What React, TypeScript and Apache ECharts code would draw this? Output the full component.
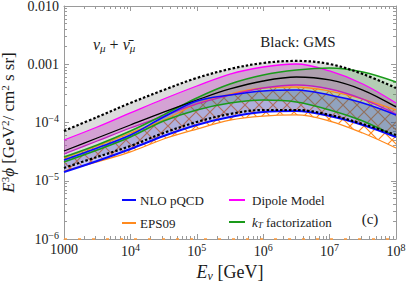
import React, { useEffect, useRef } from "react";
import * as echarts from "echarts";

// Neutrino energy (GeV)
const energies = [1e3, 3162, 1e4, 31623, 1e5, 316228, 1e6, 3162278, 1e7, 31622777, 1e8];

// E^3 phi (GeV^2 / cm^2 s sr)
const gmsUpper = [7.15e-5, 1.24e-4, 2.16e-4, 3.61e-4, 5.81e-4, 8.29e-4, 1.05e-3, 1.14e-3, 1.01e-3, 6.8e-4, 3.91e-4];
const gmsCentral = [3.24e-5, 5.42e-5, 9.06e-5, 1.51e-4, 2.43e-4, 3.76e-4, 5.16e-4, 6.04e-4, 5.37e-4, 3.61e-4, 1.85e-4];
const gmsLower = [1.66e-5, 2.56e-5, 3.95e-5, 6.6e-5, 1.02e-4, 1.4e-4, 1.64e-4, 1.64e-4, 1.35e-4, 9.42e-5, 6.1e-5];
const dipoleUpper = [5.01e-5, 8.37e-5, 1.46e-4, 2.53e-4, 4.23e-4, 6.8e-4, 8.97e-4, 1.01e-3, 7.66e-4, 4.58e-4, 2.16e-4];
const dipoleLower = [2.88e-5, 4.81e-5, 8.05e-5, 1.29e-4, 2.08e-4, 2.96e-4, 3.91e-4, 4.4e-4, 3.76e-4, 2.53e-4, 1.4e-4];
const ktUpper = [2.56e-5, 4.11e-5, 7.15e-5, 1.35e-4, 2.64e-4, 4.58e-4, 6.54e-4, 7.96e-4, 8.62e-4, 7.36e-4, 4.96e-4];
const ktLower = [2.1e-5, 3.37e-5, 5.64e-5, 1.06e-4, 1.64e-4, 2.16e-4, 2.43e-4, 2.25e-4, 1.64e-4, 1.06e-4, 5.64e-5];
const nloUpper = [2.27e-5, 3.65e-5, 6.1e-5, 1.24e-4, 2.34e-4, 2.96e-4, 3.47e-4, 3.61e-4, 2.96e-4, 2.16e-4, 1.35e-4];
const nloLower = [1.41e-5, 2.18e-5, 3.51e-5, 5.86e-5, 9.06e-5, 1.24e-4, 1.51e-4, 1.57e-4, 1.29e-4, 9.06e-5, 5.64e-5];
const eps09Upper = [2.46e-5, 3.95e-5, 6.6e-5, 1.1e-4, 2.08e-4, 3.08e-4, 3.91e-4, 4.07e-4, 3.47e-4, 2.53e-4, 1.64e-4];
const eps09Lower = [1.47e-5, 2.1e-5, 3.12e-5, 5.21e-5, 7.73e-5, 1.1e-4, 1.29e-4, 1.35e-4, 1.06e-4, 6.6e-5, 3.65e-5];

const xDecades = [3, 4, 5, 6, 7, 8];
const yDecades = [-6, -5, -4, -3, -2];

const SERIF = "'Liberation Serif', 'DejaVu Serif', serif";
const FRAME = "#9a9a9a";
const TXT = "#1a1a1a";
const SMOOTH = 0.35;

function minorTicks(decs: number[]) {
  const out: number[] = [];
  for (let i = 0; i < decs.length - 1; i++) {
    for (let k = 2; k <= 9; k++) out.push(decs[i] + Math.log10(k));
  }
  return out;
}

function pts(vals: number[]) {
  return energies.map((e, i) => [e, vals[i]]);
}

// Same smoothing as ECharts' line series (poly.ts drawSegment), as path segments.
function smoothPath(p: number[][]) {
  let d = "";
  let cx0 = p[0][0];
  let cy0 = p[0][1];
  for (let k = 1; k < p.length; k++) {
    const [x, y] = p[k];
    const [px, py] = p[k - 1];
    let cx1 = x;
    let cy1 = y;
    let vx = 0;
    let vy = 0;
    let r = 0.5;
    if (k + 1 < p.length) {
      const [nx, ny] = p[k + 1];
      vx = nx - px;
      vy = ny - py;
      const l0 = Math.hypot(x - px, y - py);
      const l1 = Math.hypot(nx - x, ny - y);
      r = l1 / (l0 + l1);
      cx1 = x - vx * SMOOTH * (1 - r);
      cy1 = y - vy * SMOOTH * (1 - r);
    }
    d += ` C${cx0},${cy0} ${cx1},${cy1} ${x},${y}`;
    cx0 = x + vx * SMOOTH * r;
    cy0 = y + vy * SMOOTH * r;
  }
  return d;
}

function band(id: string, lower: number[], upper: number[], fill: any) {
  return {
    type: "custom",
    name: id,
    coordinateSystem: "cartesian2d",
    xAxisIndex: 0,
    yAxisIndex: 0,
    silent: true,
    clip: true,
    data: [[energies[0], lower[0]]],
    encode: { x: 0, y: 1 },
    renderItem: (_params: any, api: any) => {
      const up = energies.map((e, i) => api.coord([e, upper[i]]));
      const lo = energies.map((e, i) => api.coord([e, lower[i]])).reverse();
      const d = `M${up[0][0]},${up[0][1]}` + smoothPath(up) + ` L${lo[0][0]},${lo[0][1]}` + smoothPath(lo) + " Z";
      return { type: "path", shape: { pathData: d }, style: { fill, stroke: null } };
    },
  };
}

function curve(name: string, vals: number[], color: string, width: number, type: any = "solid") {
  return {
    type: "line",
    name,
    data: pts(vals),
    symbol: "none",
    smooth: SMOOTH,
    silent: true,
    lineStyle: { color, width, type },
  };
}

function makeHatch() {
  const s = 14;
  const c = document.createElement("canvas");
  c.width = s;
  c.height = s;
  const ctx = c.getContext("2d")!;
  ctx.strokeStyle = "#ff8a1e";
  ctx.lineWidth = 1.2;
  ctx.beginPath();
  ctx.moveTo(-2, -2);
  ctx.lineTo(s + 2, s + 2);
  ctx.moveTo(s + 2, -2);
  ctx.lineTo(-2, s + 2);
  ctx.stroke();
  return { image: c.toDataURL(), repeat: "repeat", imageWidth: s, imageHeight: s };
}

export default function App() {
  const ref = useRef<HTMLDivElement>(null);
  useEffect(() => {
    if (!ref.current) return;
    const chart = echarts.init(ref.current, undefined, { renderer: "svg" });
    const hatch = makeHatch();
    const supRich = { fontSize: 10, padding: [0, 0, 8, 0] };
    const frameAxis = (extra: any) => ({
      axisLine: { show: true, lineStyle: { color: FRAME, width: 1 } },
      axisTick: { show: true, inside: true, length: 5, lineStyle: { color: FRAME } },
      splitLine: { show: false },
      minorTick: { show: false },
      ...extra,
    });
    const minorAxis = (extra: any) => ({
      type: "value",
      axisLine: { show: false },
      axisLabel: { show: false },
      splitLine: { show: false },
      ...extra,
    });

    const option: any = {
      animation: false,
      grid: { left: 64, right: 11, top: 6, bottom: 46, outerBoundsMode: "none" },
      xAxis: [
        frameAxis({
          type: "log",
          logBase: 10,
          min: 1e3,
          max: 1e8,
          splitNumber: 5,
          position: "bottom",
          axisLabel: {
            fontFamily: SERIF,
            fontSize: 14,
            color: TXT,
            margin: 3,
            formatter: (v: number) => {
              const e = Math.round(Math.log10(v));
              return e === 3 ? "1000" : "10{s|" + e + "}";
            },
            rich: { s: supRich },
          },
          name: "{i|E}{sub|ν} [GeV]",
          nameLocation: "middle",
          nameGap: 22,
          nameTextStyle: {
            fontFamily: SERIF,
            fontSize: 18,
            color: TXT,
            rich: {
              i: { fontStyle: "italic", fontSize: 18, fontFamily: SERIF },
              sub: { fontStyle: "italic", fontSize: 12, padding: [8, 0, 0, 0], fontFamily: SERIF },
            },
          },
        }),
        frameAxis({
          type: "log",
          logBase: 10,
          min: 1e3,
          max: 1e8,
          splitNumber: 5,
          position: "top",
          axisLabel: { show: false },
        }),
        minorAxis({
          min: 3,
          max: 8,
          position: "bottom",
          axisTick: { show: true, inside: true, length: 3, customValues: minorTicks(xDecades), lineStyle: { color: FRAME } },
        }),
        minorAxis({
          min: 3,
          max: 8,
          position: "top",
          axisTick: { show: true, inside: true, length: 3, customValues: minorTicks(xDecades), lineStyle: { color: FRAME } },
        }),
      ],
      yAxis: [
        frameAxis({
          type: "log",
          logBase: 10,
          min: 1e-6,
          max: 1e-2,
          splitNumber: 4,
          position: "left",
          axisLabel: {
            fontFamily: SERIF,
            fontSize: 14,
            color: TXT,
            margin: 5,
            formatter: (v: number) => {
              const e = Math.round(Math.log10(v));
              if (e === -2) return "0.010";
              if (e === -3) return "0.001";
              return "10{s|−" + -e + "}";
            },
            rich: { s: supRich },
          },
          name: "{i|E}{sup|3}{i|ϕ} [GeV{sup|2}/ cm{sup|2} s sr]",
          nameLocation: "middle",
          nameRotate: 90,
          nameGap: 37,
          nameTextStyle: {
            fontFamily: SERIF,
            fontSize: 17,
            color: TXT,
            rich: {
              i: { fontStyle: "italic", fontSize: 17, fontFamily: SERIF },
              sup: { fontSize: 11, padding: [0, 0, 7, 0], fontFamily: SERIF },
            },
          },
        }),
        frameAxis({
          type: "log",
          logBase: 10,
          min: 1e-6,
          max: 1e-2,
          splitNumber: 4,
          position: "right",
          axisLabel: { show: false },
        }),
        minorAxis({
          min: -6,
          max: -2,
          position: "left",
          axisTick: { show: true, inside: true, length: 3, customValues: minorTicks(yDecades), lineStyle: { color: FRAME } },
        }),
        minorAxis({
          min: -6,
          max: -2,
          position: "right",
          axisTick: { show: true, inside: true, length: 3, customValues: minorTicks(yDecades), lineStyle: { color: FRAME } },
        }),
      ],
      series: [
        band("EPS09 band", eps09Lower, eps09Upper, hatch),
        curve("EPS09 upper", eps09Upper, "#ff8a1e", 1.3),
        curve("EPS09 lower", eps09Lower, "#ff8a1e", 1.3),
        {
          type: "line",
          name: "EPS09 floor",
          data: [[1e3, 1e-6], [1e8, 1e-6]],
          symbol: "none",
          silent: true,
          clip: false,
          lineStyle: { color: "#ff9a3a", width: 1.5, type: [3, 11] },
        },
        band("GMS band", gmsLower, gmsUpper, "rgba(125,125,125,0.27)"),
        band("Dipole band", dipoleLower, dipoleUpper, "rgba(200,60,200,0.36)"),
        band("kT band", ktLower, ktUpper, "rgba(40,150,40,0.22)"),
        band("NLO band", nloLower, nloUpper, "rgba(40,40,220,0.25)"),
        curve("Dipole upper", dipoleUpper, "#ff00ff", 1.3),
        curve("Dipole lower", dipoleLower, "#c020c0", 1.3),
        curve("kT upper", ktUpper, "#1a9a1a", 1.6),
        curve("kT lower", ktLower, "#1a9a1a", 1.6),
        curve("GMS central", gmsCentral, "#000000", 1.3),
        curve("NLO upper", nloUpper, "#0a0aff", 1.6),
        curve("NLO lower", nloLower, "#0a0aff", 2),
        curve("GMS upper", gmsUpper, "#000000", 2.2, [2.5, 2]),
        curve("GMS lower", gmsLower, "#000000", 2.2, [2.5, 2]),
      ],
      graphic: [
        { type: "line", shape: { x1: 122, y1: 200, x2: 136, y2: 200 }, style: { stroke: "#0a0aff", lineWidth: 2 } },
        { type: "text", x: 140, y: 200, style: { text: "NLO pQCD", fontFamily: SERIF, fontSize: 13, fill: TXT, verticalAlign: "middle" } },
        { type: "line", shape: { x1: 122, y1: 223, x2: 136, y2: 223 }, style: { stroke: "#ff8a1e", lineWidth: 2 } },
        { type: "text", x: 140, y: 223, style: { text: "EPS09", fontFamily: SERIF, fontSize: 13, fill: TXT, verticalAlign: "middle" } },
        { type: "line", shape: { x1: 229, y1: 200, x2: 245, y2: 200 }, style: { stroke: "#ff00ff", lineWidth: 2 } },
        { type: "text", x: 252, y: 200, style: { text: "Dipole Model", fontFamily: SERIF, fontSize: 13, fill: TXT, verticalAlign: "middle" } },
        { type: "line", shape: { x1: 229, y1: 222, x2: 245, y2: 222 }, style: { stroke: "#1a9a1a", lineWidth: 2 } },
        {
          type: "text",
          x: 252,
          y: 222,
          style: {
            text: "{i|k}{sub|T} factorization",
            fontFamily: SERIF,
            fontSize: 13,
            fill: TXT,
            verticalAlign: "middle",
            rich: {
              i: { fontStyle: "italic", fontSize: 13, fontFamily: SERIF, fill: TXT },
              sub: { fontStyle: "italic", fontSize: 9, padding: [6, 0, 0, 0], fontFamily: SERIF, fill: TXT },
            },
          },
        },
        {
          type: "text",
          x: 93,
          y: 44,
          style: {
            text: "{i|ν}{sub|μ} + {i|ν\u0304}{sub|μ}",
            fontFamily: SERIF,
            fontSize: 16,
            fill: TXT,
            verticalAlign: "middle",
            rich: {
              i: { fontStyle: "italic", fontSize: 16, fontFamily: SERIF, fill: TXT },
              sub: { fontStyle: "italic", fontSize: 11, padding: [7, 0, 0, 0], fontFamily: SERIF, fill: TXT },
            },
          },
        },
        { type: "text", x: 298, y: 42, style: { text: "Black: GMS", fontFamily: SERIF, fontSize: 15, fill: TXT, align: "center", verticalAlign: "middle" } },
        { type: "text", x: 370, y: 219, style: { text: "(c)", fontFamily: SERIF, fontSize: 15, fill: TXT, align: "center", verticalAlign: "middle" } },
      ],
    };
    chart.setOption(option);
    return () => chart.dispose();
  }, []);
  return (
    <div
      ref={ref}
      style={{ position: "fixed", left: 0, top: 0, width: 407, height: 285, background: "#fff" }}
    />
  );
}
